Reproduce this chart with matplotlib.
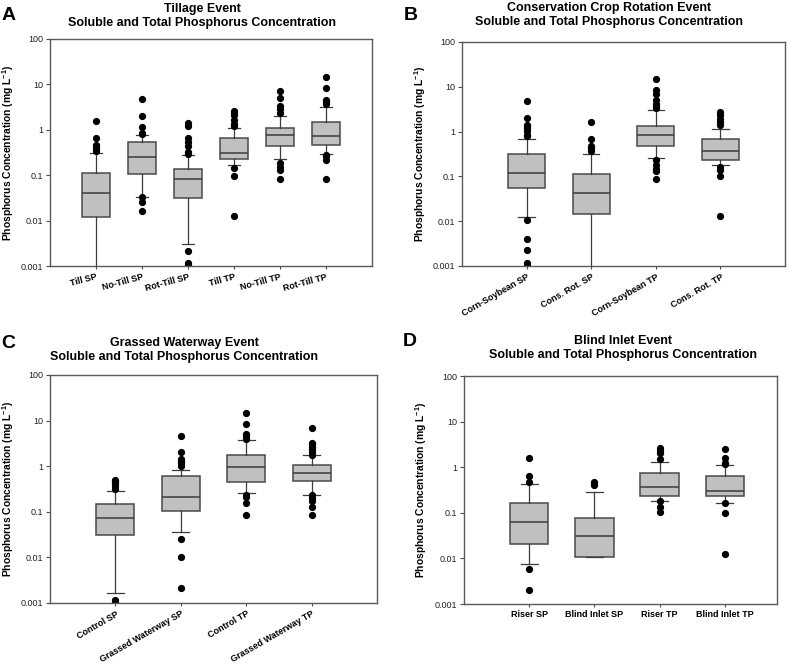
import matplotlib
matplotlib.use("Agg")
import matplotlib.pyplot as plt
from matplotlib.ticker import FixedLocator, FixedFormatter, NullLocator

plt.rcParams["font.family"] = ["Liberation Sans", "DejaVu Sans"]
plt.rcParams["mathtext.fontset"] = "custom"
plt.rcParams["mathtext.rm"] = "Liberation Sans"
plt.rcParams["mathtext.bf"] = "Liberation Sans:bold"

# ---- Panel A: tillage
a_labels = ["Till SP", "No-Till SP", "Rot-Till SP", "Till TP", "No-Till TP", "Rot-Till TP"]
a_q1 = [0.0119, 0.105, 0.0322, 0.225, 0.43, 0.459]
a_med = [0.0415, 0.249, 0.0816, 0.306, 0.762, 0.738]
a_q3 = [0.11, 0.526, 0.138, 0.655, 1.09, 1.476]
a_lo = [0.0007, 0.0338, 0.0031, 0.169, 0.225, 0.29]
a_hi = [0.305, 0.762, 0.276, 1.09, 2.0, 3.16]
a_fliers = [
    [1.58, 0.655, 0.47, 0.42, 0.38, 0.34],
    [4.75, 2.0, 1.18, 0.83, 0.79, 0.033, 0.0262, 0.0163],
    [1.40, 1.19, 0.655, 0.526, 0.43, 0.33, 0.29, 0.00214, 0.00114, 0.00105],
    [2.62, 2.3, 2.1, 1.66, 1.35, 1.2, 0.143, 0.098, 0.0127],
    [7.0, 5.0, 3.27, 2.8, 2.37, 0.19, 0.155, 0.127, 0.083],
    [14.5, 8.3, 4.43, 4.0, 3.7, 0.28, 0.26, 0.22, 0.083],
]

# ---- Panel B: conservation crop rotation
b_labels = ["Corn-Soybean SP", "Cons. Rot. SP", "Corn-Soybean TP", "Cons. Rot. TP"]
b_q1 = [0.056, 0.0147, 0.485, 0.236]
b_med = [0.121, 0.0433, 0.826, 0.369]
b_q3 = [0.311, 0.111, 1.33, 0.695]
b_lo = [0.0126, 0.0007, 0.262, 0.183]
b_hi = [0.695, 0.32, 3.09, 1.12]
b_fliers = [
    [4.7, 2.0, 1.4, 1.3, 1.2, 1.05, 0.85, 0.78, 0.0105, 0.0041, 0.00223, 0.00117, 0.00102],
    [1.63, 0.69, 0.47, 0.42, 0.36],
    [15.2, 8.6, 7.0, 5.0, 4.2, 3.7, 3.3, 0.23, 0.18, 0.15, 0.13, 0.086],
    [2.7, 2.3, 1.94, 1.6, 1.37, 0.16, 0.137, 0.102, 0.013],
]

# ---- Panel C: grassed waterway
c_labels = ["Control SP", "Grassed Waterway SP", "Control TP", "Grassed Waterway TP"]
c_q1 = [0.0317, 0.103, 0.454, 0.47]
c_med = [0.0748, 0.206, 0.938, 0.716]
c_q3 = [0.147, 0.605, 1.72, 1.07]
c_lo = [0.00166, 0.0362, 0.252, 0.239]
c_hi = [0.288, 0.82, 3.67, 1.78]
c_fliers = [
    [0.51, 0.47, 0.44, 0.40, 0.36, 0.32, 0.00118, 0.00105],
    [4.57, 2.0, 1.45, 1.3, 1.15, 1.0, 0.0259, 0.0101, 0.00213],
    [14.4, 8.25, 5.2, 4.6, 4.0, 0.23, 0.21, 0.158, 0.084],
    [6.74, 3.3, 3.0, 2.7, 2.4, 2.1, 1.8, 0.23, 0.2, 0.17, 0.128, 0.083],
]

# ---- Panel D: blind inlet
d_labels = ["Riser SP", "Blind Inlet SP", "Riser TP", "Blind Inlet TP"]
d_q1 = [0.0203, 0.011, 0.232, 0.232]
d_med = [0.0614, 0.0313, 0.37, 0.303]
d_q3 = [0.16, 0.075, 0.75, 0.645]
d_lo = [0.0074, 0.011, 0.18, 0.165]
d_hi = [0.439, 0.284, 1.31, 1.1]
d_fliers = [
    [1.6, 0.657, 0.48, 0.006, 0.002],
    [0.48, 0.44, 0.40],
    [2.6, 2.25, 2.0, 1.5, 0.18, 0.135, 0.103],
    [2.57, 1.63, 1.24, 1.15, 0.165, 0.097, 0.0128],
]

y_ticks = [0.001, 0.01, 0.1, 1, 10, 100]
y_tick_labels = ["0.001", "0.01", "0.1", "1", "10", "100"]

EDGE = "#4a4a4a"
FW, FH = 793.0, 665.0


def px_axes(x0, y0, x1, y1):
    return [x0 / FW, 1 - y1 / FH, (x1 - x0) / FW, (y1 - y0) / FH]


def draw_panel(ax, labels, q1, med, q3, lo, hi, fliers, width, xlim, rot, label_x):
    stats = []
    for i in range(len(labels)):
        stats.append({"label": labels[i], "q1": q1[i], "med": med[i], "q3": q3[i],
                      "whislo": lo[i], "whishi": hi[i], "fliers": fliers[i]})
    pos = list(range(1, len(labels) + 1))
    ax.bxp(stats, positions=pos, widths=width, capwidths=width * 0.45,
           patch_artist=True,
           boxprops=dict(facecolor="#c0c0c0", edgecolor=EDGE, linewidth=1.1),
           medianprops=dict(color="#3c3c3c", linewidth=1.1),
           whiskerprops=dict(color="#3c3c3c", linewidth=0.9),
           capprops=dict(color="#3c3c3c", linewidth=0.9),
           flierprops=dict(marker="o", markerfacecolor="black", markeredgecolor="black",
                           markersize=4.2, linestyle="none"))
    ax.set_yscale("log")
    ax.set_ylim(0.001, 100)
    ax.set_xlim(*xlim)
    ax.yaxis.set_major_locator(FixedLocator(y_ticks))
    ax.yaxis.set_major_formatter(FixedFormatter(y_tick_labels))
    ax.yaxis.set_minor_locator(NullLocator())
    ax.tick_params(axis="y", labelsize=6.5, length=3, width=0.8, color=EDGE, pad=2,
                   labelcolor="#222222")
    ax.tick_params(axis="x", length=2.5, width=0.8, color=EDGE, pad=2)
    if rot:
        ax.set_xticklabels(labels, rotation=rot, ha="right", rotation_mode="anchor",
                           fontsize=6.5, fontweight="bold")
    else:
        ax.set_xticklabels(labels, fontsize=6.5, fontweight="bold")
    for s in ax.spines.values():
        s.set_color("#5a5a5a")
        s.set_linewidth(1.0)
    ax.set_ylabel(r"Phosphorus Concentration (mg L$^{\mathbf{-1}}$)", fontsize=7.4,
                  fontweight="bold", va="center")
    ax.yaxis.set_label_coords(label_x, 0.5)


fig = plt.figure(figsize=(7.93, 6.65), dpi=100)

ax_a = fig.add_axes(px_axes(50, 39, 372, 266))
draw_panel(ax_a, a_labels, a_q1, a_med, a_q3, a_lo, a_hi, a_fliers, 0.62, (0, 7), 15, -0.13)

ax_b = fig.add_axes(px_axes(462, 42, 785, 266))
draw_panel(ax_b, b_labels, b_q1, b_med, b_q3, b_lo, b_hi, b_fliers, 0.57, (0, 5), 30, -0.13)

ax_c = fig.add_axes(px_axes(50, 375, 377, 603))
draw_panel(ax_c, c_labels, c_q1, c_med, c_q3, c_lo, c_hi, c_fliers, 0.58, (0, 5), 30, -0.128)

ax_d = fig.add_axes(px_axes(464, 376, 777, 604))
draw_panel(ax_d, d_labels, d_q1, d_med, d_q3, d_lo, d_hi, d_fliers, 0.59, (0, 4.8), 0, -0.137)

titles = [
    ("A", 9, 15, 202, 9, "Tillage Event"),
    ("B", 411, 15, 609, 8, "Conservation Crop Rotation Event"),
    ("C", 8, 343, 184, 343, "Grassed Waterway Event"),
    ("D", 410, 342, 623, 341, "Blind Inlet Event"),
]
for letter, lx, ly, tx, ty, t1 in titles:
    fig.text(lx / FW, 1 - ly / FH, letter, fontsize=14, fontweight="bold",
             ha="center", va="center")
    fig.text(tx / FW, 1 - ty / FH, t1, fontsize=9, fontweight="bold",
             ha="center", va="center")
    fig.text(tx / FW, 1 - (ty + 14) / FH, "Soluble and Total Phosphorus Concentration",
             fontsize=9, fontweight="bold", ha="center", va="center")

fig.savefig("out.png", dpi=100)
